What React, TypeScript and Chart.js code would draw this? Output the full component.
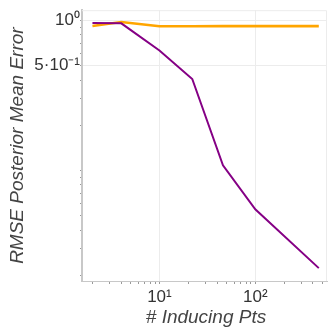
import React, { useEffect, useRef } from 'react';
import { Chart, registerables } from 'chart.js';

Chart.register(...registerables);

// ---- data ----
const inducingPts = [2, 4, 10, 22, 46, 100, 460];
const purpleSeries = [0.96, 0.956, 0.63, 0.407, 0.108, 0.055, 0.0223];
const orangeSeries = [0.919, 0.975, 0.915, 0.915, 0.916, 0.916, 0.916];

const xTickValues = [2, 3, 4, 5, 6, 7, 8, 9, 10, 20, 30, 40, 50, 60, 70, 80, 90, 100, 200, 300, 400, 500];
const xLabeledValues = [10, 100];
const xLabelTexts = ['10¹', '10²'];

const yTickValues = [0.02, 0.03, 0.04, 0.05, 0.06, 0.07, 0.08, 0.09, 0.1, 0.2, 0.3, 0.4, 0.5, 0.6, 0.7, 0.8, 0.9, 1];
const yLabeledValues = [1, 0.5];
const yLabelTexts = ['10⁰', '5·10⁻¹'];

const xTitle = '# Inducing Pts';
const yTitle = 'RMSE Posterior Mean Error';

const FONT = '"Liberation Sans", Arial, Helvetica, sans-serif';

const near = (a: number, b: number) => Math.abs(a - b) / b < 1e-6;
const labelFor = (v: number, vals: number[], texts: string[]) => {
  const i = vals.findIndex((x) => near(v, x));
  return i >= 0 ? texts[i] : '';
};

const framePlugin = {
  id: 'frame',
  beforeDatasetsDraw(chart: any) {
    const { ctx, chartArea } = chart;
    ctx.save();
    ctx.strokeStyle = '#ececec';
    ctx.lineWidth = 1;
    ctx.beginPath();
    ctx.moveTo(chartArea.left, chartArea.top + 0.5);
    ctx.lineTo(chartArea.right - 0.5, chartArea.top + 0.5);
    ctx.lineTo(chartArea.right - 0.5, chartArea.bottom);
    ctx.stroke();
    ctx.restore();
  },
};

const titlePlugin = {
  id: 'axisTitles',
  afterDraw(chart: any) {
    const { ctx, chartArea } = chart;
    ctx.save();
    ctx.fillStyle = '#444444';
    ctx.font = `italic 19px ${FONT}`;
    ctx.textAlign = 'center';
    ctx.textBaseline = 'alphabetic';
    ctx.fillText(xTitle, (chartArea.left + chartArea.right) / 2 + 1.5, chartArea.bottom + 42);
    ctx.translate(chartArea.left - 59, (chartArea.top + chartArea.bottom) / 2);
    ctx.rotate(-Math.PI / 2);
    ctx.fillText(yTitle, 0, 0);
    ctx.restore();
  },
};

export default function App() {
  const ref = useRef<HTMLCanvasElement | null>(null);

  useEffect(() => {
    document.body.style.margin = '0';
    const canvas = ref.current;
    if (!canvas) return;
    const chart = new Chart(canvas, {
      type: 'line',
      data: {
        datasets: [
          {
            label: 'purple',
            data: inducingPts.map((x, i) => ({ x, y: purpleSeries[i] })),
            borderColor: '#850085',
            borderWidth: 2,
            pointRadius: 0,
            tension: 0,
          },
          {
            label: 'orange',
            data: inducingPts.map((x, i) => ({ x, y: orangeSeries[i] })),
            borderColor: '#FFA500',
            borderWidth: 2.6,
            pointRadius: 0,
            tension: 0,
          },
        ],
      },
      options: {
        animation: false,
        responsive: false,
        devicePixelRatio: 1,
        layout: { padding: { top: 2, right: 4, left: 0, bottom: 0 } },
        plugins: { legend: { display: false }, tooltip: { enabled: false } },
        scales: {
          x: {
            type: 'logarithmic',
            min: 1.556,
            max: 560,
            afterBuildTicks: (scale: any) => {
              scale.ticks = xTickValues.map((v) => ({ value: v }));
            },
            afterFit: (scale: any) => {
              scale.height = 50;
            },
            ticks: {
              autoSkip: false,
              maxRotation: 0,
              padding: 3,
              color: '#333333',
              font: { family: FONT, size: 17 },
              callback: (v: any) => labelFor(Number(v), xLabeledValues, xLabelTexts),
            },
            grid: {
              color: (c: any) => (c.tick && xLabeledValues.some((x) => near(c.tick.value, x)) ? '#ececec' : 'rgba(0,0,0,0)'),
              tickColor: '#999999',
              tickLength: 3,
              drawTicks: true,
            },
            border: { color: '#c8c8c8', width: 1 },
          },
          y: {
            type: 'logarithmic',
            min: 0.0183,
            max: 1.17,
            afterBuildTicks: (scale: any) => {
              scale.ticks = yTickValues.map((v) => ({ value: v }));
            },
            afterFit: (scale: any) => {
              scale.width = 82;
            },
            ticks: {
              autoSkip: false,
              padding: 0,
              color: '#333333',
              font: { family: FONT, size: 17 },
              callback: (v: any) => labelFor(Number(v), yLabeledValues, yLabelTexts),
            },
            grid: {
              color: (c: any) => (c.tick && yLabeledValues.some((x) => near(c.tick.value, x)) ? '#ececec' : 'rgba(0,0,0,0)'),
              tickColor: '#999999',
              tickLength: 2,
              drawTicks: true,
            },
            border: { color: '#c8c8c8', width: 2 },
          },
        },
      },
      plugins: [framePlugin, titlePlugin],
    });
    return () => chart.destroy();
  }, []);

  return (
    <div style={{ width: 331, height: 331 }}>
      <canvas ref={ref} width={331} height={331} style={{ display: 'block' }} />
    </div>
  );
}
